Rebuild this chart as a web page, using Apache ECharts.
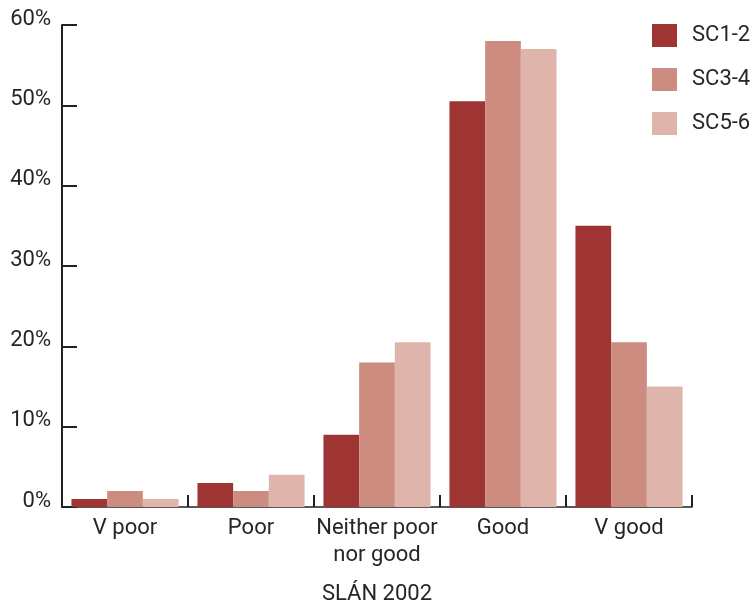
<!DOCTYPE html>
<html>
<head>
<meta charset="utf-8">
<script src="https://cdn.jsdelivr.net/npm/echarts@6/dist/echarts.min.js"></script>
<style>
  html, body { margin: 0; padding: 0; background: #fff; overflow: hidden; }
  #chart { width: 753px; height: 606px; }
</style>
</head>
<body>
<div id="chart"></div>
<script>
// Self-rated health by social class, SLÁN 2002 (percent)
const categories = ['V poor', 'Poor', 'Neither poor\nnor good', 'Good', 'V good'];
const seriesNames = ['SC1-2', 'SC3-4', 'SC5-6'];
const sc12 = [1, 3, 9, 50.5, 35];
const sc34 = [2, 2, 18, 58, 20.5];
const sc56 = [1, 4, 20.5, 57, 15];
const yTicks = [0, 10, 20, 30, 40, 50, 60];
const xTitle = 'SLÁN 2002';

const colors = ['#9E3533', '#CC8C80', '#DFB5AB'];
const font = '"Roboto", "Liberation Sans", sans-serif';
const textColor = '#262626';
const fs = 22;

const chart = echarts.init(document.getElementById('chart'), null, { renderer: 'canvas' });

chart.setOption({
  animation: false,
  backgroundColor: '#fff',
  color: colors,
  textStyle: { fontFamily: font, color: textColor },
  grid: { left: 62, right: 61, top: 25, bottom: 99, containLabel: false, outerBoundsMode: 'none' },
  legend: {
    orient: 'vertical',
    left: 652,
    top: 24,
    padding: 0,
    itemWidth: 25,
    itemHeight: 23,
    itemGap: 21,
    icon: 'rect',
    data: seriesNames,
    textStyle: { fontFamily: font, fontSize: fs, color: textColor, padding: [0, 0, 0, 10] }
  },
  xAxis: {
    type: 'category',
    data: categories,
    boundaryGap: true,
    name: xTitle,
    nameLocation: 'middle',
    nameGap: 76,
    nameTextStyle: { fontFamily: font, fontSize: fs, color: textColor },
    axisLine: { show: true, lineStyle: { color: '#222', width: 1.5 } },
    axisTick: { show: true, inside: true, length: 12, alignWithLabel: false, lineStyle: { color: '#222', width: 2 } },
    axisLabel: { fontFamily: font, fontSize: fs, color: textColor, margin: 8, lineHeight: 27, interval: 0 },
    splitLine: { show: false }
  },
  yAxis: {
    type: 'value',
    min: yTicks[0],
    max: yTicks[yTicks.length - 1],
    interval: 10,
    axisLine: { show: true, lineStyle: { color: '#222', width: 2 } },
    axisTick: { show: true, inside: true, length: 15, lineStyle: { color: '#222', width: 2 } },
    axisLabel: {
      fontFamily: font, fontSize: fs, color: textColor, margin: 11,
      verticalAlign: 'bottom', lineHeight: 12,
      formatter: v => v + '%'
    },
    splitLine: { show: false }
  },
  series: [
    { name: seriesNames[0], type: 'bar', data: sc12, barGap: '0%', barCategoryGap: '15%' },
    { name: seriesNames[1], type: 'bar', data: sc34, barGap: '0%', barCategoryGap: '15%' },
    { name: seriesNames[2], type: 'bar', data: sc56, barGap: '0%', barCategoryGap: '15%' }
  ]
});
</script>
</body>
</html>
